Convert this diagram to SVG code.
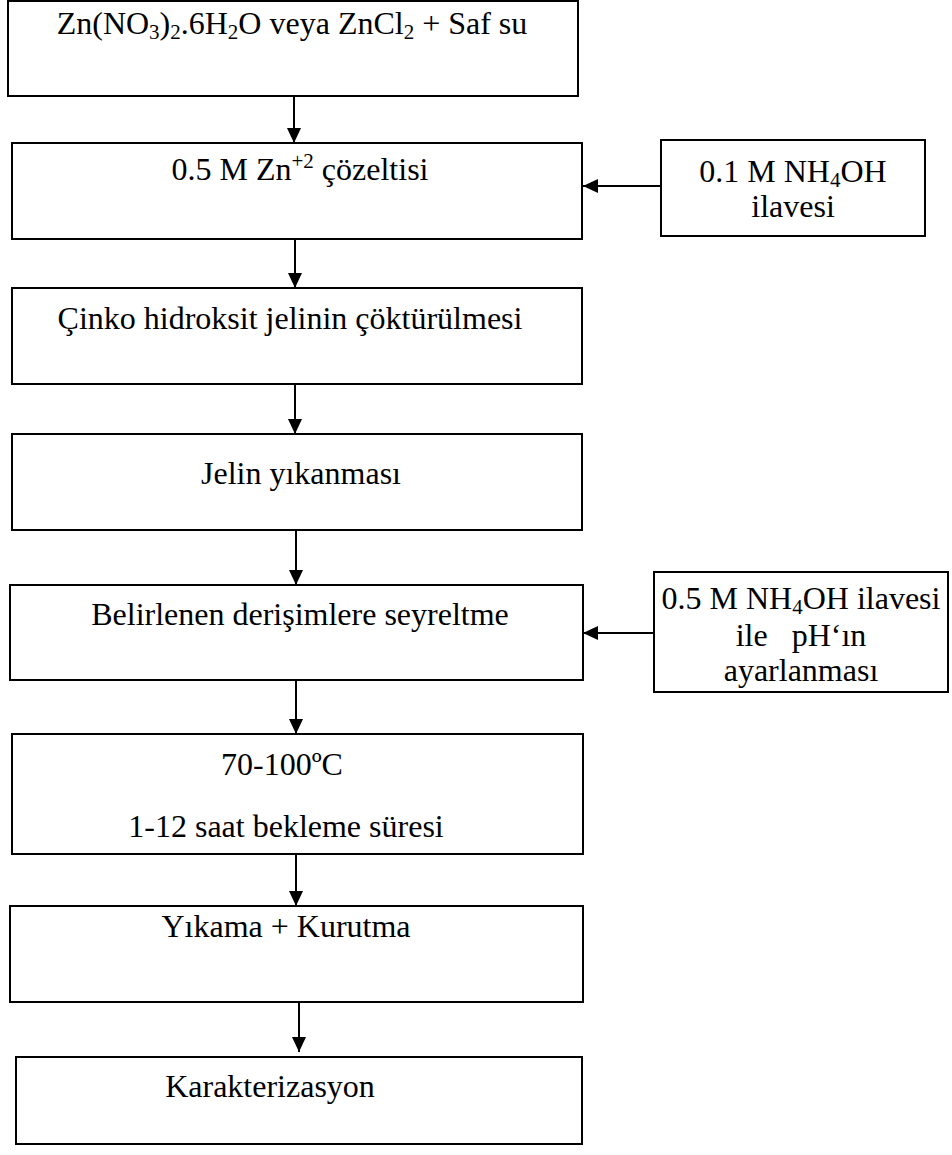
<svg xmlns="http://www.w3.org/2000/svg" width="952" height="1155" viewBox="0 0 952 1155">
<style>
.box{fill:#fff;stroke:#000;stroke-width:2}
.t{font-family:"Liberation Serif","Times New Roman",serif;font-size:32px;fill:#000}
.c{stroke:#000;stroke-width:2;fill:none}
</style>
<defs>
<marker id="ah" markerWidth="15" markerHeight="14" refX="15" refY="7" orient="auto" markerUnits="userSpaceOnUse" viewBox="0 0 15 14">
<path d="M0,0 L15,7 L0,14 Z" fill="#000"/>
</marker>
</defs>
<rect width="952" height="1155" fill="#fff"/>
<g id="connectors">
<line class="c" x1="294" y1="96" x2="294" y2="143" marker-end="url(#ah)"/>
<line class="c" x1="661" y1="186" x2="583" y2="186" marker-end="url(#ah)"/>
<line class="c" x1="295" y1="239" x2="295" y2="288" marker-end="url(#ah)"/>
<line class="c" x1="295" y1="384" x2="295" y2="434" marker-end="url(#ah)"/>
<line class="c" x1="296" y1="530" x2="296" y2="585" marker-end="url(#ah)"/>
<line class="c" x1="654" y1="633" x2="583" y2="633" marker-end="url(#ah)"/>
<line class="c" x1="296" y1="680" x2="296" y2="734" marker-end="url(#ah)"/>
<line class="c" x1="296" y1="854" x2="296" y2="906" marker-end="url(#ah)"/>
<line class="c" x1="299" y1="1002" x2="299" y2="1052" marker-end="url(#ah)"/>
</g>
<g id="n1">
<rect class="box" x="8" y="1" width="570" height="95"/>
<text class="t" text-anchor="middle" x="292" y="34">Zn(NO<tspan font-size="21" dy="5">3</tspan><tspan dy="-5">)</tspan><tspan font-size="21" dy="5">2</tspan><tspan dy="-5">.6H</tspan><tspan font-size="21" dy="5">2</tspan><tspan dy="-5">O veya ZnCl</tspan><tspan font-size="21" dy="5">2</tspan><tspan dy="-5"> + Saf su</tspan></text>
</g>
<g id="n2">
<rect class="box" x="12" y="143" width="570" height="96"/>
<text class="t" text-anchor="middle" x="300" y="180">0.5 M Zn<tspan font-size="21" dy="-12">+2</tspan><tspan dy="12"> çözeltisi</tspan></text>
</g>
<g id="n2b">
<rect class="box" x="661" y="140" width="264" height="96"/>
<text class="t" text-anchor="middle" x="793" y="182">0.1 M NH<tspan font-size="21" dy="5">4</tspan><tspan dy="-5">OH</tspan></text>
<text class="t" text-anchor="middle" x="793" y="217">ilavesi</text>
</g>
<g id="n3">
<rect class="box" x="12" y="288" width="570" height="96"/>
<text class="t" text-anchor="middle" x="290" y="329">Çinko hidroksit jelinin çöktürülmesi</text>
</g>
<g id="n4">
<rect class="box" x="12" y="434" width="570" height="96"/>
<text class="t" text-anchor="middle" x="301" y="484">Jelin yıkanması</text>
</g>
<g id="n5">
<rect class="box" x="10" y="585" width="573" height="95"/>
<text class="t" text-anchor="middle" x="300" y="625">Belirlenen derişimlere seyreltme</text>
</g>
<g id="n5b">
<rect class="box" x="654" y="572" width="294" height="120"/>
<text class="t" text-anchor="middle" x="801" y="609">0.5 M NH<tspan font-size="21" dy="5">4</tspan><tspan dy="-5">OH ilavesi</tspan></text>
<text class="t" text-anchor="middle" x="801" y="646" xml:space="preserve">ile   pH‘ın</text>
<text class="t" text-anchor="middle" x="801" y="681">ayarlanması</text>
</g>
<g id="n6">
<rect class="box" x="12" y="734" width="571" height="120"/>
<text class="t" text-anchor="middle" x="282" y="775">70-100ºC</text>
<text class="t" text-anchor="middle" x="286" y="837">1-12 saat bekleme süresi</text>
</g>
<g id="n7">
<rect class="box" x="10" y="906" width="573" height="96"/>
<text class="t" text-anchor="middle" x="286" y="937">Yıkama + Kurutma</text>
</g>
<g id="n8">
<rect class="box" x="16" y="1057" width="566" height="87"/>
<text class="t" text-anchor="middle" x="270" y="1097">Karakterizasyon</text>
</g>
</svg>
